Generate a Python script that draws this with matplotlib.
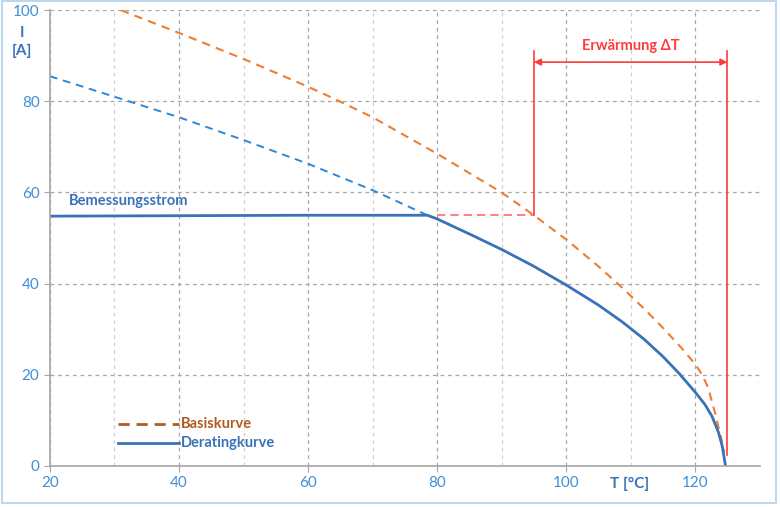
import matplotlib.pyplot as plt
from matplotlib.patches import Rectangle
from matplotlib.ticker import MultipleLocator

plt.rcParams['font.family'] = ['Lato', 'DejaVu Sans']

# Derating curve (solid)
derat_t = [20, 40, 60, 78.5, 80, 85, 90, 95, 100, 105, 108.7, 112, 115, 117.5, 120,
           121.5, 122.6, 123.6, 124.2, 124.7]
derat_i = [54.8, 54.9, 55.0, 55.0, 54.2, 50.9, 47.5, 43.8, 39.7, 35.3, 31.6, 27.9, 24.0, 20.3, 16.2,
           13.5, 10.9, 7.4, 4.3, 0]

# Base curve extension below rated current (blue dashed)
ext_t = [20, 30, 40, 50, 60, 70, 78.5]
ext_i = [85.5, 81, 76.5, 71.5, 66.3, 60.5, 55]

# Basiskurve (orange dashed)
basis_t = [31, 40, 50, 60, 64, 70, 80, 90, 95, 100, 105, 108.7, 112, 115, 118, 120, 121,
           122, 123.1, 124, 124.5]
basis_i = [100, 95, 89.3, 83.2, 80.6, 76.5, 68.5, 60, 55, 49.7, 43.8, 39.1, 34.6, 30.3, 25.7, 22.3, 20.2,
           17.2, 11.5, 6.2, 3]

x_ticks = [20, 40, 60, 80, 100, 120]
y_ticks = [0, 20, 40, 60, 80, 100]

rated = 55
t_knee, t_basis, t_max = 80, 95, 125

blue = '#3A72B8'
blue_dash = '#2F86D3'
orange = '#ED7D31'
red = '#FF3B3B'
tick_col = '#3F8FD8'

fig = plt.figure(figsize=(7.8, 5.07), dpi=100)
fig.patches.append(Rectangle((0.002, 0.008), 0.993, 0.99, transform=fig.transFigure,
                             fill=False, edgecolor='#BDD7EE', linewidth=1.5))
ax = fig.add_axes([0.064, 0.081, 0.910, 0.899])

ax.set_xlim(20, 130)
ax.set_ylim(0, 100)
ax.set_xticks(x_ticks)
ax.set_yticks(y_ticks)
ax.xaxis.set_minor_locator(MultipleLocator(10))

ax.grid(which='major', axis='both', color='#A6A6A6', linestyle=(0, (3, 3)), linewidth=0.9)
ax.grid(which='minor', axis='x', color='#D0D0D0', linestyle=(0, (3, 3)), linewidth=0.9)
ax.set_axisbelow(True)

for s in ['top', 'right']:
    ax.spines[s].set_visible(False)
for s in ['left', 'bottom']:
    ax.spines[s].set_color('#A6A6A6')
    ax.spines[s].set_linewidth(1.2)
ax.tick_params(which='major', colors='#A6A6A6', labelcolor=tick_col, labelsize=11, length=4)
ax.tick_params(which='minor', length=0)

ax.plot(ext_t, ext_i, color=blue_dash, linestyle=(0, (4, 3)), linewidth=1.4)
ax.plot(basis_t, basis_i, color=orange, linestyle=(0, (4, 3)), linewidth=1.5)
ax.plot(derat_t, derat_i, color=blue, linewidth=2.0, solid_joinstyle='round')

# temperature rise annotation
ax.plot([t_knee, t_basis], [rated, rated], color='#FF6B6B', linestyle=(0, (5, 3)), linewidth=1.2)
ax.plot([t_basis, t_basis], [rated, 91], color=red, linewidth=1.2)
ax.plot([t_max, t_max], [2.5, 91], color=red, linewidth=1.2)
ax.annotate('', xy=(t_basis, 88.6), xytext=(t_max, 88.6),
            arrowprops=dict(arrowstyle='<|-|>', color=red, lw=1.2, mutation_scale=10,
                            shrinkA=0, shrinkB=0))
ax.text(110, 90.5, 'Erwärmung ΔT', color=red, fontsize=10.5, fontweight='bold',
        ha='center', va='bottom')

ax.text(23, 56.5, 'Bemessungsstrom', color=blue, fontsize=10.5, fontweight='bold',
        ha='left', va='bottom')

# axis labels
fig.text(22 / 780, 1 - 42 / 507, 'I\n[A]', color=blue, fontsize=11, fontweight='bold',
         ha='center', va='center', linespacing=1.4)
fig.text(630 / 780, 1 - 484 / 507, 'T [°C]', color=blue, fontsize=11, fontweight='bold',
         ha='center', va='center')

# legend drawn by hand
ax.plot([30.5, 40], [9.2, 9.2], color='#B35A1F', linestyle=(0, (4, 2.5)), linewidth=2)
ax.text(40.3, 9.2, 'Basiskurve', color='#B35A1F', fontsize=10.5, fontweight='bold', va='center')
ax.plot([30.5, 40], [5.0, 5.0], color=blue, linewidth=2)
ax.text(40.3, 5.0, 'Deratingkurve', color=blue, fontsize=10.5, fontweight='bold', va='center')

fig.savefig('out.png', dpi=100)
